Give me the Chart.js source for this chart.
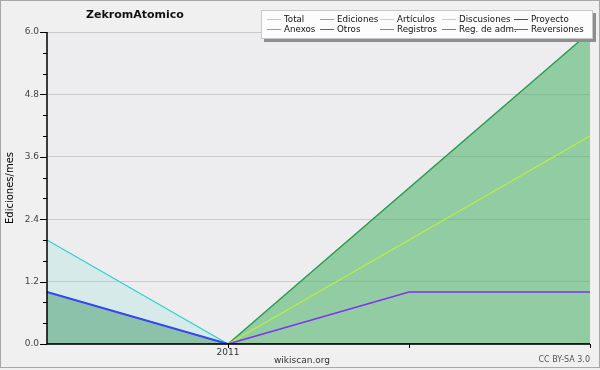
<!DOCTYPE html>
<html>
<head>
<meta charset="utf-8">
<script src="https://cdn.jsdelivr.net/npm/chart.js@4/dist/chart.umd.min.js"></script>
<style>
  body { margin: 0; background: #fff; }
  #wrap { position: relative; width: 600px; height: 370px; background: #f0f0f0; font-family: "DejaVu Sans", sans-serif; }
  #frame { position: absolute; left: 0; top: 0; width: 598px; height: 366px; border: 1px solid #a8a8a8; pointer-events: none; }
  #title { position: absolute; left: 86px; top: 8px; font-weight: bold; font-size: 11px; color: #111; }
  #legend { position: absolute; left: 261px; top: 10px; width: 330px; height: 27px; background: #fcfcfc; border: 1px solid #c8c8c8; box-shadow: 3px 3px 0 #8e8e8e; font-size: 8.7px; color: #111; }
  .item { position: absolute; height: 11px; line-height: 11px; white-space: nowrap; padding-left: 17px; }
  .item i { position: absolute; left: 0; top: 5px; width: 14px; height: 1px; }
  #site { position: absolute; left: 0; width: 604px; top: 355px; text-align: center; font-size: 9px; color: #333; }
  #lic { position: absolute; right: 10px; top: 355px; font-size: 8px; color: #555; }
</style>
</head>
<body>
<div id="wrap">
  <canvas id="chart" width="600" height="370"></canvas>
  <div id="title">ZekromAtomico</div>
  <div id="legend"></div>
  <div id="site">wikiscan.org</div>
  <div id="lic">CC BY-SA 3.0</div>
  <div id="frame"></div>
</div>
<script>
// data
const xLabels = ['', '2011', '', ''];
const total = [2, 0, 3, 6];
const ediciones = [1, 0, 3, 6];
const articulos = [0, 0, 2, 4];
const discusiones = [0, 0, 0, 0];
const proyecto = [0, 0, 0, 0];
const anexos = [0, 0, 0, 0];
const otros = [0, 0, 1, 1];
const registros = [1, 0, 0, 0];
const regAdm = [0, 0, 0, 0];
const reversiones = [0, 0, 0, 0];
const yTicks = [0, 1.2, 2.4, 3.6, 4.8, 6.0];
const yMinorStep = 0.4;

const legendItems = [
  ['Total', '#90dede'], ['Ediciones', '#70bb80'], ['Artículos', '#c0ee60'], ['Discusiones', '#f5cc60'], ['Proyecto', '#505050'],
  ['Anexos', '#f08040'], ['Otros', '#8040e0'], ['Registros', '#7080f0'], ['Reg. de adm.', '#d040e0'], ['Reversiones', '#e03030']
];
const colLeft = [5, 58, 118, 180, 252];

const legend = document.getElementById('legend');
legendItems.forEach((it, i) => {
  const d = document.createElement('div');
  d.className = 'item';
  d.style.left = colLeft[i % 5] + 'px';
  d.style.top = (i < 5 ? 3 : 13) + 'px';
  d.innerHTML = '<i style="background:' + it[1] + '"></i>' + it[0];
  legend.appendChild(d);
});

function line(label, data, color, width, fillColor, order, hidden) {
  return {
    label: label,
    data: data,
    borderColor: color,
    borderWidth: width,
    backgroundColor: fillColor || color,
    fill: fillColor ? 'origin' : false,
    pointRadius: 0,
    tension: 0,
    order: order,
    hidden: !!hidden
  };
}

const plotDecor = {
  id: 'plotDecor',
  beforeDraw(chart) {
    const a = chart.chartArea, c = chart.ctx;
    c.save();
    c.fillStyle = '#ededf0';
    c.fillRect(a.left, a.top, a.right - a.left, a.bottom - a.top);
    c.restore();
  },
  afterDatasetsDraw(chart) {
    const a = chart.chartArea, c = chart.ctx;
    const y = chart.scales.y, x = chart.scales.x;
    c.save();
    c.strokeStyle = '#000';
    c.lineWidth = 1.5;
    c.beginPath();
    c.moveTo(a.left, a.top);
    c.lineTo(a.left, a.bottom);
    c.lineTo(a.right, a.bottom);
    c.stroke();
    c.lineWidth = 1;
    c.beginPath();
    for (let v = 0; v <= 6.0001; v += yMinorStep) {
      const py = Math.round(y.getPixelForValue(v)) + 0.5;
      const major = yTicks.some(t => Math.abs(t - v) < 1e-6);
      c.moveTo(a.left - (major ? 7 : 4), py);
      c.lineTo(a.left, py);
    }
    for (let i = 1; i < xLabels.length; i++) {
      const px = Math.round(x.getPixelForValue(i)) + 0.5;
      c.moveTo(px, a.bottom);
      c.lineTo(px, a.bottom + 4);
    }
    c.stroke();
    c.restore();
  }
};

new Chart(document.getElementById('chart'), {
  type: 'line',
  data: {
    labels: xLabels,
    datasets: [
      line('Total', total, '#30d0d0', 1.2, 'rgba(100,220,200,0.17)', 6),
      line('Ediciones', ediciones, '#3a9a44', 1.2, 'rgba(64,168,76,0.45)', 5),
      line('Artículos', articulos, '#b8f040', 1.2, null, 3),
      line('Discusiones', discusiones, '#f8d070', 1, null, 7, true),
      line('Proyecto', proyecto, '#606060', 1, null, 7, true),
      line('Anexos', anexos, '#f08850', 1, null, 7, true),
      line('Otros', otros, '#8030f0', 1.5, null, 1),
      line('Registros', registros, '#3848f0', 2, 'rgba(80,110,240,0.1)', 4),
      line('Reg. de adm.', regAdm, '#d050e0', 1, null, 7, true),
      line('Reversiones', reversiones, '#e84040', 1, null, 7, true)
    ]
  },
  options: {
    responsive: false,
    animation: false,
    layout: { padding: { top: 32, right: 10, left: 0, bottom: 0 } },
    plugins: { legend: { display: false }, title: { display: false }, tooltip: { enabled: false } },
    scales: {
      x: {
        type: 'category',
        offset: false,
        border: { display: false },
        grid: { display: false, drawTicks: false },
        ticks: { padding: 3, autoSkip: false, maxRotation: 0, color: '#333', font: { family: 'DejaVu Sans', size: 9 } },
        afterFit(s) { s.height = 26; }
      },
      y: {
        min: 0,
        max: 6,
        border: { display: false },
        grid: { color: '#cacaca', lineWidth: 1, drawTicks: false },
        afterBuildTicks(s) { s.ticks = yTicks.map(v => ({ value: v })); },
        ticks: { padding: 8, color: '#444', font: { family: 'DejaVu Sans', size: 9 }, callback: v => v.toFixed(1) },
        title: { display: true, text: 'Ediciones/mes', color: '#000', padding: { top: 4, bottom: 0 }, font: { family: 'DejaVu Sans', size: 10 } },
        afterFit(s) { s.width = 47; }
      }
    }
  },
  plugins: [plotDecor]
});
</script>
</body>
</html>
